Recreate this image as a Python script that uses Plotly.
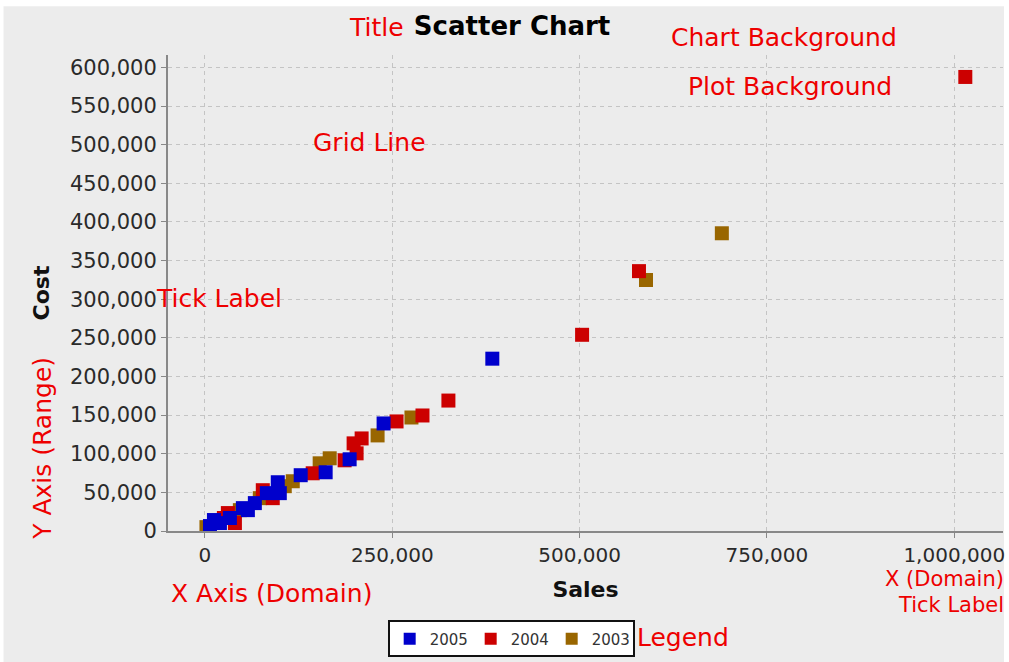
import plotly.graph_objects as go

# Sales vs. cost per year
sales_2005 = [383500, 238400, 193100, 161100, 127800, 97200, 99900, 82600, 66600, 50600, 57300, 33300, 20000, 12000, 6700]
cost_2005 = [223000, 139200, 92800, 76000, 72200, 63100, 49000, 49000, 36100, 29600, 27000, 16800, 10300, 14200, 6400]

sales_2004 = [1014700, 579200, 503300, 324900, 290300, 255700, 209100, 198400, 202400, 186400, 143800, 90500, 77200, 30600, 25300, 40000]
cost_2004 = [587600, 336300, 253900, 168800, 149500, 141800, 119800, 113400, 100500, 91500, 74700, 42500, 52800, 23200, 16800, 10300]

sales_2003 = [689800, 588600, 275600, 230400, 166500, 153100, 117200, 106500, 73200, 46600, 2000]
cost_2003 = [385300, 324800, 146900, 123700, 94100, 87600, 64400, 58000, 42500, 27000, 5000]

series = [
    ("2003", sales_2003, cost_2003, "#996600"),
    ("2004", sales_2004, cost_2004, "#cc0000"),
    ("2005", sales_2005, cost_2005, "#0000cc"),
]

x_ticks = [0, 250000, 500000, 750000, 1000000]
y_ticks = list(range(0, 600001, 50000))

FONT = "DejaVu Sans"
RED = "#ee0000"

fig = go.Figure()
for name, xs, ys, color in series:
    fig.add_trace(go.Scatter(
        x=xs, y=ys, mode="markers", name=name,
        marker=dict(symbol="square", size=14, color=color, line=dict(width=0)),
    ))

axis_common = dict(
    showline=True, linecolor="#888888", linewidth=2,
    ticks="outside", ticklen=5, tickcolor="#888888", tickwidth=1,
    showgrid=True, gridcolor="#c4c4c4", gridwidth=1, griddash="4px,4px",
    zeroline=False, tickformat=",d",
)

fig.update_xaxes(
    range=[-49300, 1065000], tickvals=x_ticks,
    tickfont=dict(family=FONT, size=20, color="#2a2a2a"),
    title=dict(text="<b>Sales</b>", font=dict(family=FONT, size=22, color="#111111"), standoff=16),
    **axis_common,
)
fig.update_yaxes(
    range=[0, 616000], tickvals=y_ticks,
    tickfont=dict(family=FONT, size=21, color="#2a2a2a"),
    title=dict(text="<b>Cost</b>", font=dict(family=FONT, size=22, color="#111111"), standoff=14),
    **axis_common,
)

labels = [
    ("Title", 0.2497, 1.0586, 25, "center"),
    ("Chart Background", 0.7372, 1.0377, 25, "center"),
    ("Plot Background", 0.7455, 0.9331, 25, "center"),
    ("Grid Line", 0.2413, 0.8159, 25, "center"),
    ("Tick Label", 0.0615, 0.4874, 25, "center"),
    ("X Axis (Domain)", 0.1243, -0.1318, 25, "center"),
    ("X (Domain)", 1.004, -0.1004, 21, "right"),
    ("Tick Label", 1.004, -0.1548, 21, "right"),
    ("Legend", 0.6165, -0.2238, 25, "center"),
]
annotations = [
    dict(text=t, x=x, y=y, xref="paper", yref="paper", xanchor=xa, yanchor="middle",
         showarrow=False, font=dict(family=FONT, size=s, color=RED))
    for t, x, y, s, xa in labels
]
annotations.append(dict(
    text="Y Axis (Range)", x=-0.1505, y=0.1735, xref="paper", yref="paper",
    xanchor="center", yanchor="middle", textangle=-90, showarrow=False,
    font=dict(family=FONT, size=25, color=RED),
))

fig.update_layout(
    width=1009, height=662,
    margin=dict(l=168, r=4, t=55, b=129),
    paper_bgcolor="white",
    plot_bgcolor="white",
    title=dict(text="<b>Scatter Chart</b>", x=0.5075, xanchor="center",
               y=1 - 26 / 662, yanchor="middle", yref="container",
               font=dict(family=FONT, size=26, color="black")),
    annotations=annotations,
    shapes=[dict(type="rect", xref="paper", yref="paper", x0=-0.197, x1=1.0012,
                 y0=-0.3, y1=1.1025, fillcolor="#ececec", line=dict(width=0), layer="below")],
    legend=dict(
        orientation="h", traceorder="reversed", x=0.411, y=-0.188,
        xanchor="center", yanchor="top", bgcolor="white",
        bordercolor="#111111", borderwidth=2, itemsizing="constant",
        entrywidth=36,
        font=dict(family=FONT, size=15, color="#333333"),
    ),
    font=dict(family=FONT),
)

fig.write_html("out.html")
